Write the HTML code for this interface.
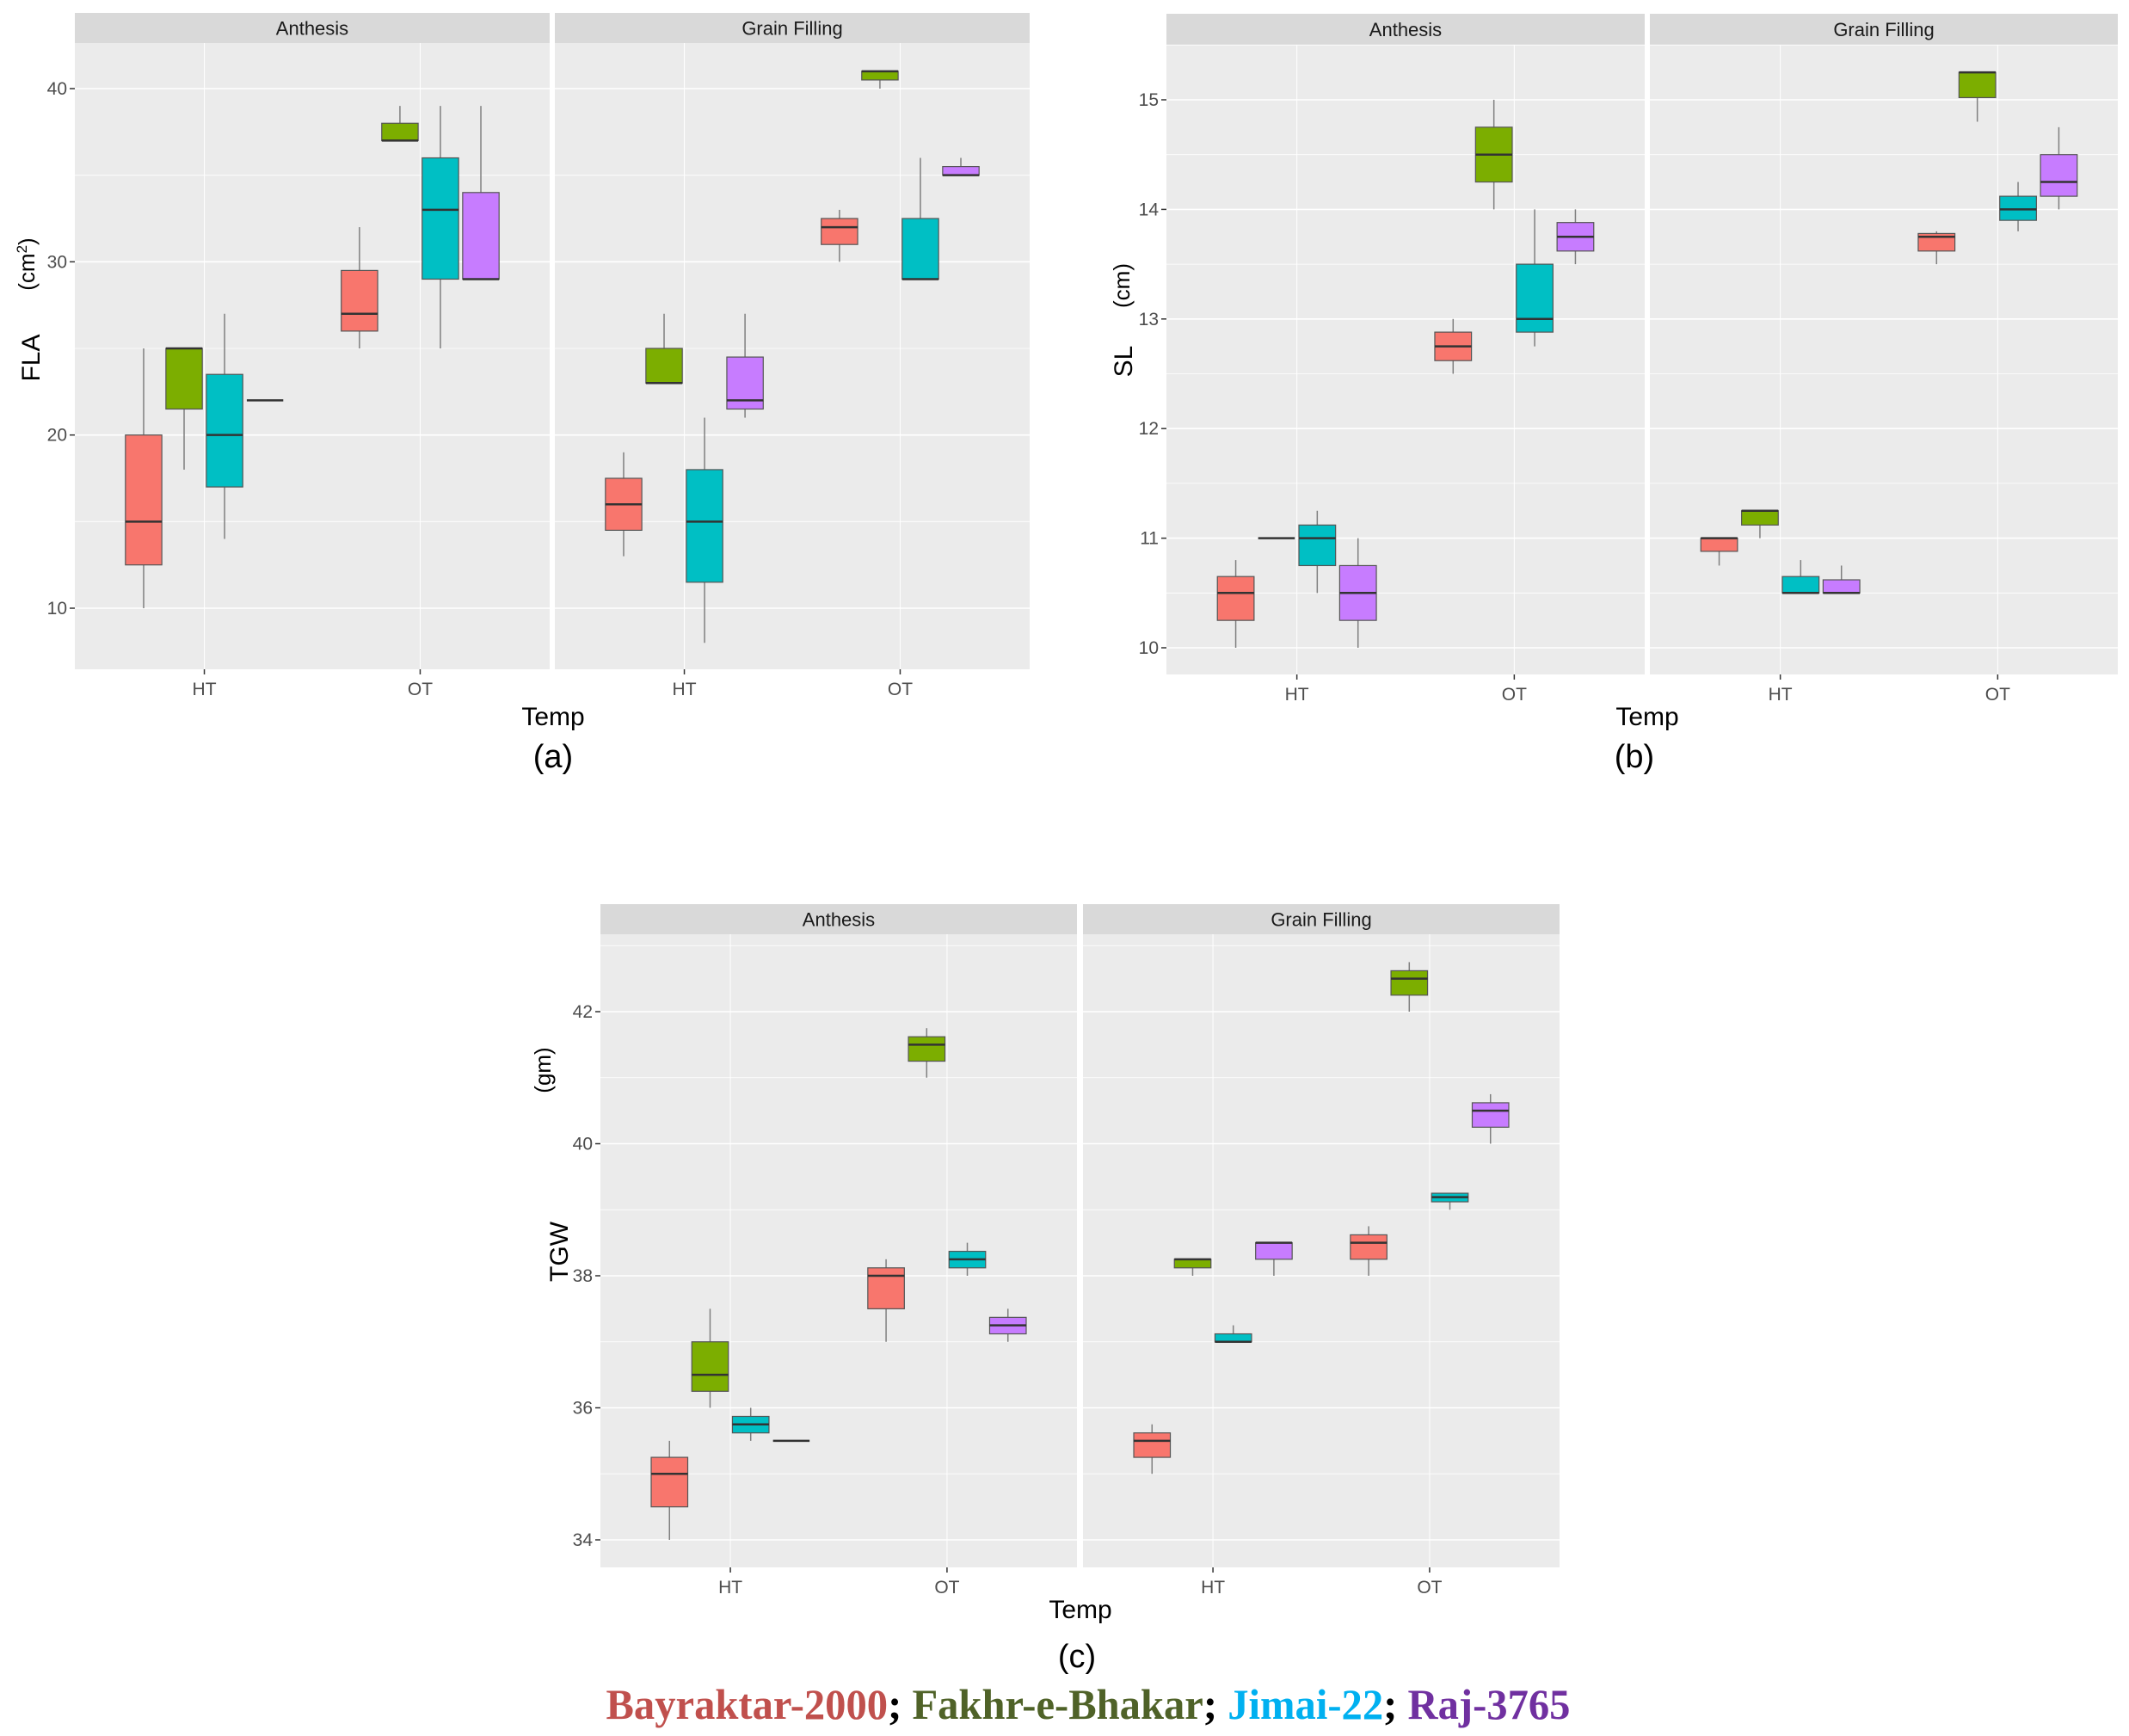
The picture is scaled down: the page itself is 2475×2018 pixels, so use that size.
<!DOCTYPE html>
<html><head><meta charset="utf-8"><style>
html,body{margin:0;padding:0;background:#fff;}
svg{display:block;font-family:"Liberation Sans",sans-serif;}
</style></head><body>
<svg id="fig" width="2475" height="2018" viewBox="0 0 2475 2018" xmlns="http://www.w3.org/2000/svg">
<g id="layer"></g>
<text x="1265" y="1998" text-anchor="middle" font-family="Liberation Serif, serif" font-weight="bold" font-size="50" textLength="1121" lengthAdjust="spacingAndGlyphs"><tspan fill="#c0504d">Bayraktar-2000</tspan><tspan fill="#000">; </tspan><tspan fill="#4f6228">Fakhr-e-Bhakar</tspan><tspan fill="#000">; </tspan><tspan fill="#00b0f0">Jimai-22</tspan><tspan fill="#000">; </tspan><tspan fill="#7030a0">Raj-3765</tspan></text>
</svg>
<script>
// shared categories
const facets = ["Anthesis", "Grain Filling"];
const temps = ["HT", "OT"];
const varieties = ["Bayraktar-2000", "Fakhr-e-Bhakar", "Jimai-22", "Raj-3765"];
const colors = ["#F8766D", "#7CAE00", "#00BFC4", "#C77CFF"];

// Panel (a) FLA: [min, q1, median, q3, max] per facet -> temp -> variety
const flaAnthesisHT = [[10,12.5,15,20,25],[18,21.5,25,25,25],[14,17,20,23.5,27],[22,22,22,22,22]];
const flaAnthesisOT = [[25,26,27,29.5,32],[37,37,37,38,39],[25,29,33,36,39],[29,29,29,34,39]];
const flaGrainHT = [[13,14.5,16,17.5,19],[23,23,23,25,27],[8,11.5,15,18,21],[21,21.5,22,24.5,27]];
const flaGrainOT = [[30,31,32,32.5,33],[40,40.5,41,41,41],[29,29,29,32.5,36],[35,35,35,35.5,36]];
const flaTicks = [10, 20, 30, 40];

// Panel (b) SL
const slAnthesisHT = [[10,10.25,10.5,10.65,10.8],[11,11,11,11,11],[10.5,10.75,11,11.12,11.25],[10,10.25,10.5,10.75,11]];
const slAnthesisOT = [[12.5,12.62,12.75,12.88,13],[14,14.25,14.5,14.75,15],[12.75,12.88,13,13.5,14],[13.5,13.62,13.75,13.88,14]];
const slGrainHT = [[10.75,10.88,11,11,11],[11,11.12,11.25,11.25,11.25],[10.5,10.5,10.5,10.65,10.8],[10.5,10.5,10.5,10.62,10.75]];
const slGrainOT = [[13.5,13.62,13.75,13.78,13.8],[14.8,15.02,15.25,15.25,15.25],[13.8,13.9,14,14.12,14.25],[14,14.12,14.25,14.5,14.75]];
const slTicks = [10, 11, 12, 13, 14, 15];

// Panel (c) TGW
const tgwAnthesisHT = [[34,34.5,35,35.25,35.5],[36,36.25,36.5,37,37.5],[35.5,35.62,35.75,35.87,36],[35.5,35.5,35.5,35.5,35.5]];
const tgwAnthesisOT = [[37,37.5,38,38.12,38.25],[41,41.25,41.5,41.62,41.75],[38,38.12,38.25,38.37,38.5],[37,37.12,37.25,37.37,37.5]];
const tgwGrainHT = [[35,35.25,35.5,35.62,35.75],[38,38.12,38.25,38.25,38.25],[37,37,37,37.12,37.25],[38,38.25,38.5,38.5,38.5]];
const tgwGrainOT = [[38,38.25,38.5,38.62,38.75],[42,42.25,42.5,42.62,42.75],[39,39.12,39.19,39.25,39.25],[40,40.25,40.5,40.62,40.75]];
const tgwTicks = [34, 36, 38, 40, 42];

const NS = "http://www.w3.org/2000/svg";
const layer = document.getElementById("layer");
function mk(tag, attrs, parent) {
  const e = document.createElementNS(NS, tag);
  for (const k in attrs) e.setAttribute(k, attrs[k]);
  (parent || layer).appendChild(e);
  return e;
}

function drawPanel(cfg) {
  const g = mk("g", {});
  
  
  const y = v => cfg.p0 + (v - cfg.v0) * (cfg.p1 - cfg.p0) / (cfg.v1 - cfg.v0);
  const W = cfg.fx[0][1] - cfg.fx[0][0];
  const unit = W / 2.2;
  facets.forEach((f, fi) => {
    const [x0, x1] = cfg.fx[fi];
    const x = c => x0 + (0.6 + c) * unit;
    const s = mk("rect", {x: x0, y: cfg.st, width: x1 - x0, height: cfg.top - cfg.st, fill: "#d9d9d9"}, g);
    
    
    const st = mk("text", {x: (x0 + x1) / 2, y: (cfg.st + cfg.top) / 2 + 8, "text-anchor": "middle", "font-size": 22, fill: "#1a1a1a"}, g);
    st.textContent = f;
    
    
    const bg = mk("rect", {x: x0, y: cfg.top, width: x1 - x0, height: cfg.bot - cfg.top, fill: "#ebebeb"}, g);
    
    
    const t = cfg.ticks;
    const step = t[1] - t[0];
    for (let v = t[0] - step; v <= t[t.length - 1] + step; v += step / 2) {
      const py = y(v);
      if (py < cfg.top || py > cfg.bot) continue;
      const major = t.includes(v);
      mk("line", {x1: x0, x2: x1, y1: py, y2: py, stroke: "#fff", "stroke-width": major ? 1.6 : 0.8}, g);
    }
    temps.forEach((tp, ti) => {
      mk("line", {x1: x(ti), x2: x(ti), y1: cfg.top, y2: cfg.bot, stroke: "#fff", "stroke-width": 1}, g);
      mk("line", {x1: x(ti), x2: x(ti), y1: cfg.bot, y2: cfg.bot + 6, stroke: "#333", "stroke-width": 1.5}, g);
      const lt = mk("text", {x: x(ti), y: cfg.bot + 30, "text-anchor": "middle", "font-size": 21, fill: "#4d4d4d"}, g);
      lt.textContent = tp;
      
      
    });
    temps.forEach((tp, ti) => {
      const set = cfg.data[fi][ti];
      set.forEach((d, vi) => {
        const cx = x(ti) + (vi - 1.5) * unit * 0.1875;
        const bw = unit * 0.1875 * 0.9;
        const bx = mk("g", {}, g);
        
        
        mk("line", {x1: cx, x2: cx, y1: y(d[0]), y2: y(d[1]), stroke: "#7f7f7f", "stroke-width": 1.5}, bx);
        mk("line", {x1: cx, x2: cx, y1: y(d[3]), y2: y(d[4]), stroke: "#7f7f7f", "stroke-width": 1.5}, bx);
        mk("rect", {x: cx - bw / 2, y: y(d[3]), width: bw, height: Math.max(0, y(d[1]) - y(d[3])), fill: colors[vi], stroke: "#555", "stroke-width": 1.2}, bx);
        mk("line", {x1: cx - bw / 2, x2: cx + bw / 2, y1: y(d[2]), y2: y(d[2]), stroke: "#333", "stroke-width": 2.5}, bx);
      });
    });
  });
  const x0 = cfg.fx[0][0];
  cfg.ticks.forEach(v => {
    mk("line", {x1: x0 - 6, x2: x0, y1: y(v), y2: y(v), stroke: "#333", "stroke-width": 1.5}, g);
    const tt = mk("text", {x: x0 - 9, y: y(v) + 7, "text-anchor": "end", "font-size": 21, fill: "#4d4d4d"}, g);
    tt.textContent = v;
    
    
  });
  const yt = mk("text", {transform: `translate(${cfg.yt[0]},${cfg.yt[1]}) rotate(-90)`, "text-anchor": "middle", "font-size": 30, fill: "#000"}, g);
  yt.textContent = cfg.ylab;
  
  
  const yu = mk("text", {transform: `translate(${cfg.yu[0]},${cfg.yu[1]}) rotate(-90)`, "text-anchor": "middle", "font-size": 26, fill: "#000"}, g);
  yu.innerHTML = cfg.unit;
  
  
  const xt = mk("text", {x: cfg.xt[0], y: cfg.xt[1] + 10, "text-anchor": "middle", "font-size": 30, fill: "#000"}, g);
  xt.textContent = "Temp";
  
  
  const pl = mk("text", {x: cfg.pl[0], y: cfg.pl[1] + 13, "text-anchor": "middle", "font-size": 38, fill: "#000"}, g);
  pl.textContent = cfg.label;
  
  
}

drawPanel({name: "panel-a-fla", fx: [[87, 639], [645, 1197]], st: 15, top: 50, bot: 778,
  v0: 10, p0: 707, v1: 40, p1: 103, ticks: flaTicks,
  data: [[flaAnthesisHT, flaAnthesisOT], [flaGrainHT, flaGrainOT]],
  ylab: "FLA", yt: [46, 416], unit: '(cm<tspan baseline-shift="super" font-size="17">2</tspan>)', yu: [40, 307],
  xt: [643, 833], pl: [643, 879], label: "(a)"});
drawPanel({name: "panel-b-sl", fx: [[1356, 1912], [1918, 2462]], st: 16, top: 52, bot: 784,
  v0: 10, p0: 753, v1: 15, p1: 116, ticks: slTicks,
  data: [[slAnthesisHT, slAnthesisOT], [slGrainHT, slGrainOT]],
  ylab: "SL", yt: [1316, 420], unit: "(cm)", yu: [1313, 332],
  xt: [1915, 833], pl: [1900, 879], label: "(b)"});
drawPanel({name: "panel-c-tgw", fx: [[698, 1252], [1259, 1813]], st: 1051, top: 1086, bot: 1822,
  v0: 34, p0: 1790, v1: 42, p1: 1176, ticks: tgwTicks,
  data: [[tgwAnthesisHT, tgwAnthesisOT], [tgwGrainHT, tgwGrainOT]],
  ylab: "TGW", yt: [660, 1455], unit: "(gm)", yu: [640, 1244],
  xt: [1256, 1871], pl: [1252, 1925], label: "(c)"});
</script>
</body></html>
